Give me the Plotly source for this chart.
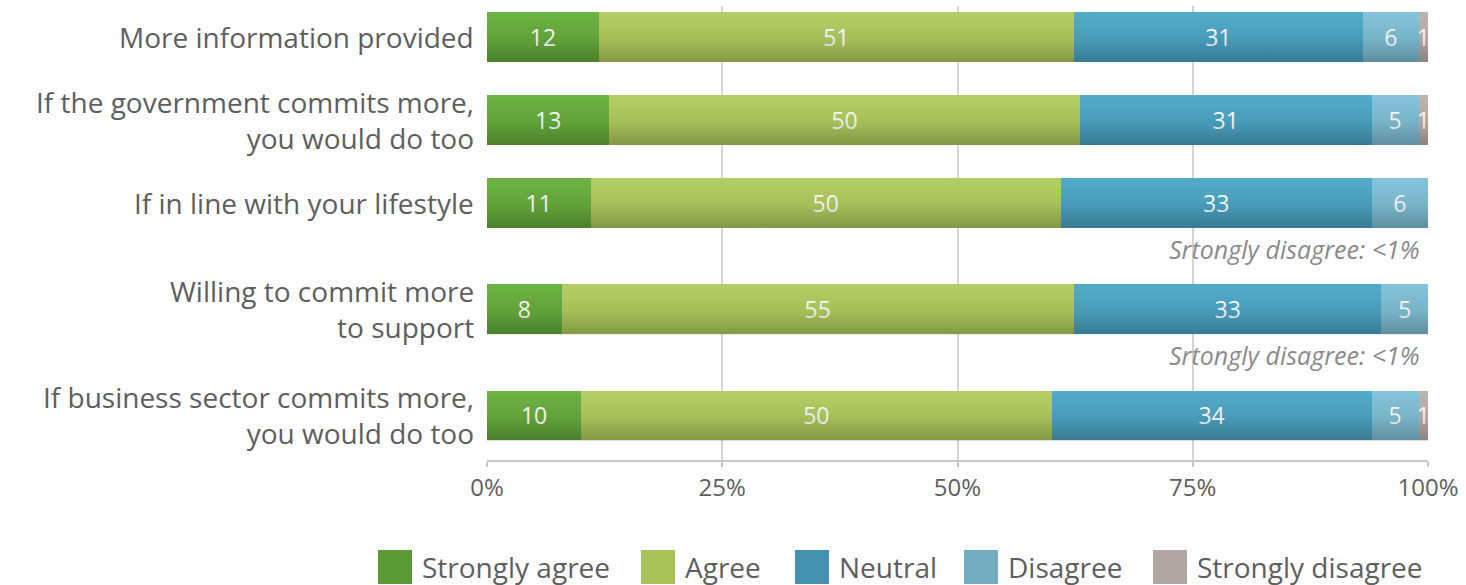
import plotly.graph_objects as go

# Survey statements (top to bottom) and response shares
statements = [
    "More information provided",
    "If the government commits more,<br>you would do too",
    "If in line with your lifestyle",
    "Willing to commit more<br>to support",
    "If business sector commits more,<br>you would do too",
]
strongly_agree = [12, 13, 11, 8, 10]
agree = [51, 50, 50, 55, 50]
neutral = [31, 31, 33, 33, 34]
disagree = [6, 5, 6, 5, 5]
strongly_disagree = [1, 1, None, None, 1]
row_notes = [None, None, "Srtongly disagree: <1%", "Srtongly disagree: <1%", None]

series_names = ["Strongly agree", "Agree", "Neutral", "Disagree", "Strongly disagree"]
series_values = [strongly_agree, agree, neutral, disagree, strongly_disagree]
x_ticks = [0, 25, 50, 75, 100]
x_tick_labels = [f"{t}%" for t in x_ticks]

# Styling
colors = ["#67ad3c", "#b1cc5e", "#4ca6c6", "#80c0d6", "#bbb1ae"]
legend_colors = ["#5c9a36", "#a8c257", "#4492b0", "#74adc2", "#b0a6a3"]
label_font = "'Open Sans', sans-serif"
grey_text = "#5e5e5e"
BAR_W = 0.6

# Row positions: a row followed by a note gets extra room beneath it
NOTE_GAP = 0.28
positions = []
pos = 0.0
for i in range(len(statements)):
    if i > 0:
        pos += 1.0 + (NOTE_GAP if row_notes[i - 1] else 0.0)
    positions.append(pos)

W, H = 1466, 585
m_l, m_r, m_t, m_b = 487, 38, 6, 125
plot_h = H - m_t - m_b
unit_px = 83.0
first_center_px = 37.0
y_top = (m_t - first_center_px) / unit_px
y_bot = (H - m_b - first_center_px) / unit_px

fig = go.Figure()
for name, vals, col in zip(series_names, series_values, colors):
    fig.add_trace(go.Bar(
        name=name,
        y=positions,
        x=vals,
        orientation="h",
        width=BAR_W,
        marker=dict(color=col, line=dict(width=0)),
        text=["" if v is None else str(v) for v in vals],
        textposition="inside",
        insidetextanchor="middle",
        textangle=0,
        textfont=dict(family=label_font, size=23, color="white"),
        showlegend=False,
        hoverinfo="name+x",
    ))

# Soft vertical shading over each bar (lighter top, darker bottom)
for p in positions:
    top, bot = p - BAR_W / 2, p + BAR_W / 2
    fig.add_trace(go.Scatter(
        x=[0, 100, 100, 0, 0],
        y=[top, top, bot, bot, top],
        mode="lines",
        line=dict(width=0),
        fill="toself",
        fillgradient=dict(
            type="vertical",
            start=bot, stop=top,
            colorscale=[[0, "rgba(0,0,0,0.26)"], [0.45, "rgba(0,0,0,0.07)"],
                        [1, "rgba(255,255,255,0.04)"]],
        ),
        hoverinfo="skip",
        showlegend=False,
    ))

annotations = []

# Row labels, right-aligned against the plot
for p, label in zip(positions, statements):
    annotations.append(dict(
        x=0, y=p, xref="paper", yref="y",
        xanchor="right", yanchor="middle", xshift=-11, align="right",
        text=label, showarrow=False,
        font=dict(family=label_font, size=28, color=grey_text),
    ))

for p, note in zip(positions, row_notes):
    if note:
        annotations.append(dict(
            x=100, y=p + 0.55, xref="x", yref="y",
            xanchor="right", yanchor="middle", xshift=-6,
            text=f"<i>{note}</i>", showarrow=False,
            font=dict(family=label_font, size=25, color="#8a8a8a"),
        ))

# Custom legend with large swatches below the axis
def px_to_paper_x(px):
    return (px - m_l) / (W - m_l - m_r)

def px_to_paper_y(py):
    return (H - m_b - py) / plot_h

legend_swatch_left = [378, 641, 795, 964, 1153]
swatch = 34
sw_top, sw_bot = 550, 584
shapes = []
for name, col, left in zip(series_names, legend_colors, legend_swatch_left):
    shapes.append(dict(
        type="rect", xref="paper", yref="paper",
        x0=px_to_paper_x(left), x1=px_to_paper_x(left + swatch),
        y0=px_to_paper_y(sw_bot), y1=px_to_paper_y(sw_top),
        fillcolor=col, line=dict(width=0),
    ))
    annotations.append(dict(
        x=px_to_paper_x(left + swatch + 8), y=px_to_paper_y(567),
        xref="paper", yref="paper", xanchor="left", yanchor="middle",
        text=name, showarrow=False,
        font=dict(family=label_font, size=28, color=grey_text),
    ))

fig.update_layout(
    barmode="stack",
    barnorm="percent",
    width=W, height=H,
    margin=dict(l=m_l, r=m_r, t=m_t, b=m_b),
    plot_bgcolor="white",
    paper_bgcolor="white",
    uniformtext=dict(mode="show", minsize=23),
    annotations=annotations,
    shapes=shapes,
    xaxis=dict(
        range=[0, 100],
        tickvals=x_ticks,
        ticktext=x_tick_labels,
        showgrid=True, gridcolor="#d4d4d4", gridwidth=1.5,
        zeroline=False,
        showline=True, linecolor="#c8c8c8", linewidth=2,
        ticks="outside", ticklen=5, tickcolor="#c8c8c8", tickwidth=1.5,
        tickfont=dict(family=label_font, size=24, color=grey_text),
        fixedrange=True,
    ),
    yaxis=dict(
        range=[y_bot, y_top],
        tickvals=positions,
        showticklabels=False,
        showgrid=False, zeroline=False, showline=False,
        ticks="",
        fixedrange=True,
    ),
)

fig.write_html("out.html")
